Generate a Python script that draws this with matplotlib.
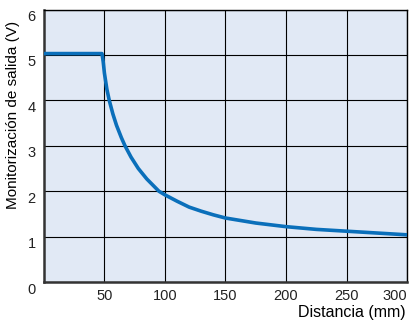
import matplotlib.pyplot as plt
import matplotlib.transforms as mtransforms

plt.rcParams['font.family'] = ['Liberation Sans', 'DejaVu Sans']

# curve
dist = [0, 48, 49, 50, 52, 54, 57, 60, 64, 67, 72, 78, 85, 95, 100,
        110, 120, 130, 140, 150, 175, 200, 225, 250, 275, 300]
volt = [5.03, 5.03, 4.85, 4.6, 4.25, 4.0, 3.7, 3.45, 3.18, 3.0, 2.75, 2.5, 2.27, 2.0, 1.92,
        1.78, 1.65, 1.56, 1.48, 1.41, 1.30, 1.22, 1.16, 1.12, 1.08, 1.04]
xticks = [50, 100, 150, 200, 250, 300]
yticks = [0, 1, 2, 3, 4, 5, 6]

fig = plt.figure(figsize=(4.1, 3.28), dpi=100)
ax = fig.add_axes([0.107, 0.140, 0.886, 0.831])
ax.set_facecolor('#e1e9f5')

ax.plot(dist, volt, color='#0a6fba', lw=2.6, solid_capstyle='butt', zorder=3)

ax.set_xlim(0, 300)
ax.set_ylim(0, 6)
ax.set_xticks(xticks)
ax.set_yticks(yticks)
ax.grid(True, color='black', lw=0.8)
ax.tick_params(length=0, labelsize=10.5, colors='#222222')
ax.tick_params(axis='x', pad=5)
ax.tick_params(axis='y', pad=6)

# y labels sit a little below their grid lines
off = mtransforms.ScaledTranslation(0, -0.06, fig.dpi_scale_trans)
for lab in ax.get_yticklabels():
    lab.set_transform(lab.get_transform() + off)
ax.get_xticklabels()[-1].set_horizontalalignment('right')

for s in ['left', 'bottom']:
    ax.spines[s].set_linewidth(1.8)
    ax.spines[s].set_color('#333333')
for s in ['top', 'right']:
    ax.spines[s].set_linewidth(1.0)
    ax.spines[s].set_color('black')

ax.set_ylabel('Monitorización de salida (V)', fontsize=11)
ax.yaxis.set_label_coords(-0.066, 0.613)
fig.text(0.99, 0.046, 'Distancia (mm)', ha='right', va='center', fontsize=11.5)

fig.savefig('out.png', dpi=100)
